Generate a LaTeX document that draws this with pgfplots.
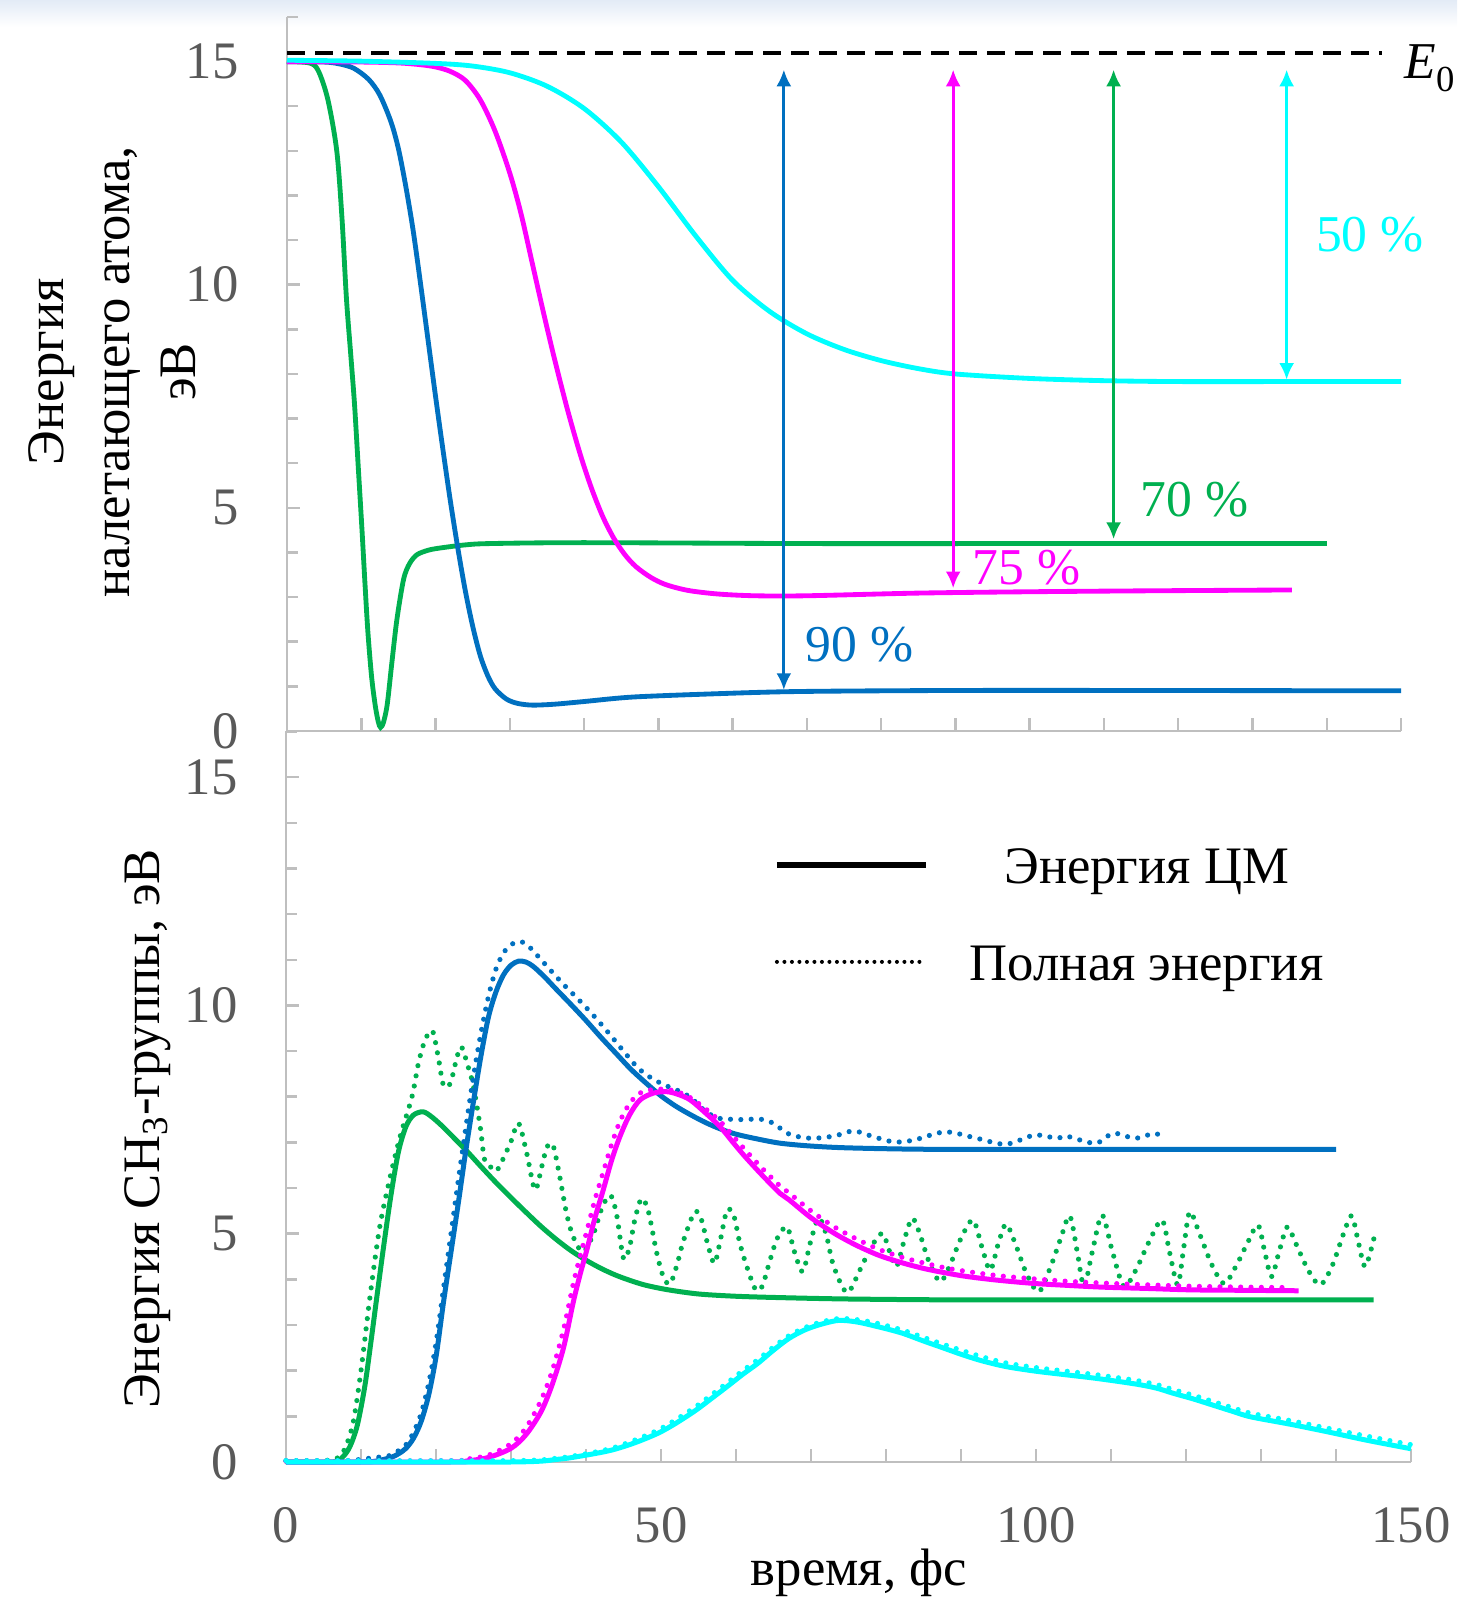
\documentclass[border=0pt]{standalone}
\usepackage{fontspec}
\setmainfont{Liberation Serif}
\usepackage{pgfplots}
\pgfplotsset{compat=1.18}
\usetikzlibrary{arrows.meta}
\definecolor{cCyan}{HTML}{00FFFF}
\definecolor{cMag}{HTML}{FF00FF}
\definecolor{cBlue}{HTML}{0070C0}
\definecolor{cGreen}{HTML}{00B050}
\definecolor{axgray}{HTML}{BFBFBF}
\definecolor{tickgray}{HTML}{595959}
\definecolor{bandc}{HTML}{E3EBF6}
\begin{document}
\begin{tikzpicture}
\path[use as bounding box] (0,0) rectangle (437.1pt,480.9pt);
\fill[white] (0,0) rectangle (437.1pt,480.9pt);
\shade[top color=bandc, bottom color=white] (0,472.8pt) rectangle (437.1pt,480.9pt);
\pgfplotsset{
  common/.style={
    scale only axis, clip=false,
    xmin=0, xmax=150, ymin=0, ymax=16,
    axis x line=bottom, axis y line=left,
    axis line style={-, draw=axgray, line width=0.75pt},
    every tick/.style={draw=axgray, line width=0.75pt},
    tick align=inside,
    major tick length=4pt, minor tick length=3.3pt,
    ytick={0,5,10,15},
    minor ytick={1,2,3,4,6,7,8,9,11,12,13,14,16},
    /pgf/number format/assume math mode=true,
    tick label style={font=\fontsize{15.8}{18}\selectfont, text=tickgray},
    y tick label style={anchor=east, inner sep=0pt, xshift=-14.3pt},
    x tick label style={anchor=center, inner sep=0pt, yshift=-19.1pt},
  },
  top/.style={line width=1.45pt, smooth, forget plot},
  sol/.style={line width=1.5pt, smooth, forget plot},
  dot/.style={line width=1.55pt, smooth, line cap=round, dash pattern=on 0pt off 3.1pt, forget plot},
}
% ---------------- top panel ----------------
\begin{axis}[common,
  at={(86.1pt,261.6pt)}, anchor=south west,
  width=334.2pt, height=214.2pt,
  xtick={10,20,...,150}, xticklabels={,,,,,,,,,,,,,,},
  ylabel={Энергия\\налетающего атома,\\эВ},
  every axis y label/.style={at={(axis description cs:-0.1566,0.503)}, rotate=90, anchor=center, align=center, font=\fontsize{15.8}{19.8}\selectfont},
]
\addplot[black, line width=1pt, dash pattern=on 5.4pt off 3pt, forget plot] coordinates {(0,15.19) (147.4,15.19)};
% green (70 %)
\addplot[top, cGreen] coordinates {
(0,15.0) (3,14.97) (4.2,14.8) (5.5,14.15) (6.7,13.0) (7.4,11.5) (8.0,9.7) (8.6,8.4) (9.1,7.3) (9.6,5.9)
(10.1,4.5) (10.5,3.3) (10.9,2.2) (11.4,1.2) (11.9,0.55) (12.3,0.2) (12.6,0.08) (13.0,0.2) (13.5,0.6)
(14.1,1.5) (14.8,2.5) (15.7,3.4) (16.5,3.75) (17.5,3.95) (19,4.05) (20.6,4.1) (24,4.17) (27.4,4.2)
(40,4.22) (70,4.2) (100,4.2) (140,4.2)};
% blue (90 %)
\addplot[top, cBlue] coordinates {
(0,15.0) (5,14.99) (7,14.95) (9,14.85) (11,14.6) (12.5,14.25) (14,13.65) (15,13.05) (16,12.2) (17,11.2)
(18,10.0) (19,8.75) (20,7.5) (21,6.3) (22,5.15) (23,4.1) (24,3.15) (25,2.35) (26,1.7) (27,1.25)
(28,0.95) (29.5,0.72) (31,0.62) (33,0.58) (36,0.6) (40,0.66) (46.5,0.76) (57,0.83) (67.2,0.88)
(80,0.9) (100,0.91) (150,0.9)};
% magenta (75 %)
\addplot[top, cMag] coordinates {
(0,15.0) (10,14.99) (15,14.97) (18,14.93) (20,14.88) (22,14.78) (24,14.58) (26,14.15) (28,13.45)
(30,12.5) (31.5,11.6) (33,10.5) (34.5,9.4) (36,8.35) (37.8,7.18) (39.5,6.19) (41,5.44) (42.5,4.81)
(44,4.32) (45.5,3.95) (47,3.68) (49,3.44) (51,3.28) (54,3.15) (58,3.07) (63,3.03) (70,3.03)
(85,3.09) (100,3.12) (115,3.14) (135.3,3.16)};
% cyan (50 %)
\addplot[top, cCyan] coordinates {
(0,15.03) (10,15.01) (20,14.96) (25,14.9) (30,14.75) (35,14.45) (40,13.95) (45,13.2) (50,12.2)
(55,11.1) (60,10.1) (65,9.4) (70,8.9) (75,8.55) (80,8.3) (85,8.12) (90,8.0) (100,7.9) (110,7.85)
(120,7.83) (135,7.83) (150,7.83)};
% arrows
\draw[cBlue, line width=0.85pt, {Latex[length=5pt,width=4.5pt]}-{Latex[length=5pt,width=4.5pt]}] (axis cs:66.9,14.82) -- (axis cs:66.9,0.92);
\draw[cMag, line width=0.85pt, {Latex[length=5pt,width=4.5pt]}-{Latex[length=5pt,width=4.5pt]}] (axis cs:89.7,14.82) -- (axis cs:89.7,3.2);
\draw[cGreen, line width=0.85pt, {Latex[length=5pt,width=4.5pt]}-{Latex[length=5pt,width=4.5pt]}] (axis cs:111.3,14.82) -- (axis cs:111.3,4.3);
\draw[cCyan, line width=0.85pt, {Latex[length=5pt,width=4.5pt]}-{Latex[length=5pt,width=4.5pt]}] (axis cs:134.6,14.82) -- (axis cs:134.6,7.87);
\node[text=cBlue, font=\fontsize{15.5}{18}\selectfont, inner sep=0pt] at (axis cs:77.1,1.93) {90 \%};
\node[text=cMag, font=\fontsize{15.5}{18}\selectfont, inner sep=0pt] at (axis cs:99.6,3.65) {75 \%};
\node[text=cGreen, font=\fontsize{15.5}{18}\selectfont, inner sep=0pt] at (axis cs:122.2,5.18) {70 \%};
\node[text=cCyan, font=\fontsize{15.5}{18}\selectfont, inner sep=0pt] at (axis cs:145.8,11.12) {50 \%};
\node[anchor=base west, inner sep=0pt, font=\fontsize{15.5}{18}\selectfont] at (axis cs:150.4,14.63) {\textit{E}\raisebox{-4pt}{\fontsize{11}{11}\selectfont 0}};
\end{axis}
% ---------------- bottom panel ----------------
\begin{axis}[common,
  at={(85.8pt,42.3pt)}, anchor=south west,
  width=337.5pt, height=219.15pt,
  xtick={0,10,...,150}, xticklabels={0,,,,,50,,,,,100,,,,,150},
  xlabel={время, фс},
  every axis x label/.style={at={(axis description cs:0.5093,-0.152)}, anchor=center, font=\fontsize{15.8}{19}\selectfont},
  ylabel={Энергия CH\textsubscript{3}-группы, эВ},
  every axis y label/.style={at={(axis description cs:-0.1227,0.456)}, rotate=90, anchor=center, font=\fontsize{15.8}{19}\selectfont},
  legend image code/.code={\draw[#1] (0pt,0pt) -- (44.8pt,0pt);},
  legend cell align=center,
  legend style={draw=none, fill=none, inner sep=0pt, outer sep=0pt,
    at={(axis description cs:0.434,0.8425)}, anchor=north west,
    row sep=18.1pt, column sep=12.3pt,
    nodes={inner sep=0pt, text height=11pt, text depth=0pt, font=\fontsize{15.8}{19}\selectfont}},
]
% green
\addplot[dot, cGreen] coordinates {
(0,0.02) (5,0.03) (7,0.1) (8,0.35) (9,0.9) (10,2.0) (11.2,3.62) (12.5,5.15) (13.9,6.25) (15.2,7.12)
(16.8,8.0) (17.6,8.69) (18.3,9.13) (19.0,9.39) (19.6,9.42) (20.3,8.87) (21.0,8.25) (21.9,8.29)
(22.8,8.87) (23.4,9.09) (24.3,8.65) (25.0,8.22) (25.9,7.34) (26.5,6.61) (27.6,6.43) (28.2,6.4)
(29.9,6.98) (31.0,7.42) (32.1,6.76) (33.2,5.96) (34.1,6.47) (34.8,6.9) (35.6,6.94) (36.5,6.25)
(37.4,5.45) (38.3,4.93) (39.6,4.6) (41,5.0) (42.2,5.6) (43.3,5.84) (44.1,5.4) (45.0,4.46) (45.8,4.7)
(46.5,5.3) (47.4,5.77) (48.3,5.5) (49.4,4.6) (50.3,4.06) (51.2,3.9) (52.1,4.3) (53.0,4.85) (54.5,5.48)
(55.4,5.3) (56.1,4.85) (57.1,4.35) (57.9,4.85) (58.8,5.52) (59.7,5.4) (60.5,4.8) (61.4,4.3) (62.6,3.78)
(63.5,3.85) (64.5,4.4) (65.5,4.9) (66.8,5.15) (67.8,4.6) (68.9,4.17) (69.9,4.8) (71.0,5.34) (72.0,5.0)
(73.0,4.3) (74.8,3.71) (76.5,4.2) (78,4.7) (79.5,5.01) (80.5,4.6) (81.4,4.28) (82.5,4.9) (83.5,5.34)
(84.5,5.0) (85.7,4.4) (87.2,3.95) (88.5,4.3) (90,4.9) (91.6,5.3) (92.8,4.7) (93.9,4.2) (95,4.8)
(96.0,5.21) (97.2,4.8) (98.8,4.1) (100.4,3.73) (102,4.3) (103.3,4.9) (104.5,5.39) (105.5,4.6)
(106.4,3.85) (107.5,4.6) (108.8,5.41) (110.2,4.6) (111.7,3.85) (113.3,4.2) (115,4.8) (116.8,5.3)
(117.8,4.6) (118.9,3.88) (119.7,4.7) (120.5,5.48) (121.8,5.0) (123.5,4.3) (125.1,3.91) (126.7,4.3)
(128.2,4.8) (129.6,5.19) (130.5,4.6) (131.4,4.06) (132.4,4.6) (133.5,5.15) (134.6,4.8) (136.3,4.2)
(137.9,3.88) (139.5,4.3) (141,5.0) (142.1,5.39) (143,4.8) (143.9,4.28) (145.1,4.93)};
\addplot[sol, cGreen] coordinates {
(0,0) (6.3,0) (7.5,0.1) (8.5,0.33) (9.5,0.8) (10.5,1.65) (11.3,2.6) (12.1,3.6) (13,4.7) (14,5.85)
(15,6.8) (16,7.35) (17,7.6) (18.3,7.67) (19.5,7.55) (21,7.33) (22.5,7.08) (24,6.83) (26,6.47)
(28,6.12) (30,5.79) (32,5.47) (34,5.16) (36,4.88) (38,4.63) (40,4.42) (42,4.24) (44,4.09) (46,3.97)
(48,3.87) (51,3.77) (55,3.68) (60,3.63) (66,3.6) (75,3.57) (90,3.55) (110,3.55) (145,3.55)};
% blue
\addplot[dot, cBlue] coordinates {
(0,0.03) (8,0.03) (10,0.06) (12,0.1) (14,0.15) (16,0.38) (17,0.65) (18,1.05) (19,1.7) (20,2.6)
(21,3.8) (22,5.0) (23,6.2) (24,7.35) (25,8.45) (26,9.4) (27,10.2) (28,10.8) (29,11.15) (30,11.33)
(31,11.4) (32,11.35) (33.2,11.15) (35,10.82) (37,10.46) (39,10.13) (41,9.78) (43,9.4) (45,9.0)
(47,8.62) (49,8.38) (51,8.22) (53,8.08) (54.5,7.9) (55.5,7.74) (56.5,7.62) (57.6,7.53) (60.5,7.5)
(63.2,7.51) (64.7,7.44) (65.9,7.31) (67.4,7.16) (70.1,7.09) (73.1,7.14) (75.7,7.25) (78.4,7.12)
(81.1,7.01) (83.7,7.05) (87.9,7.23) (92.1,7.09) (96,6.96) (99.8,7.16) (102.8,7.09) (104,7.14)
(107.9,6.98) (110.3,7.2) (113.2,7.09) (115.9,7.2) (117.1,7.05)};
\addplot[sol, cBlue] coordinates {
(0,0) (10,0) (12,0.02) (14,0.1) (15,0.18) (16,0.3) (17,0.52) (18,0.88) (19,1.45) (20,2.3) (21,3.5)
(22,4.6) (23,5.7) (24,6.85) (25,7.9) (26,8.9) (27,9.75) (28,10.3) (29,10.67) (30,10.88) (31,10.97)
(32,10.95) (33,10.85) (34.5,10.62) (36,10.36) (38,10.02) (40,9.67) (42,9.3) (44,8.95) (46,8.6)
(48,8.3) (50,8.02) (52,7.79) (54,7.6) (56,7.43) (58,7.29) (60,7.18) (63,7.07) (66,6.98) (70,6.92)
(75,6.88) (85,6.85) (100,6.85) (140,6.85)};
% magenta
\addplot[dot, cMag] coordinates {
(0,0.02) (22,0.03) (24,0.06) (27,0.15) (30,0.4) (32,0.75) (34,1.35) (35.5,2.0) (37,2.9) (38.3,3.9)
(39.2,4.5) (40.1,5.05) (41.2,5.75) (42.3,6.35) (43.4,6.95) (44.5,7.45) (45.8,7.85) (47.2,8.08)
(49,8.16) (50.8,8.16) (52.3,8.1) (53.9,7.98) (55.9,7.74) (57.9,7.46) (59.6,7.14) (61.2,6.84)
(63.5,6.43) (65.9,6.04) (67.1,5.89) (70,5.5) (73.1,5.15) (76,4.89) (79,4.66) (82,4.49) (85,4.36)
(88,4.25) (90.9,4.17) (95,4.08) (99.8,4.01) (104,3.96) (108.8,3.92) (115,3.88) (120.7,3.85)
(128,3.83) (134,3.82)};
\addplot[sol, cMag] coordinates {
(0,0) (22,0) (24,0.02) (27,0.1) (30,0.3) (32,0.6) (34,1.1) (35.5,1.7) (37,2.5) (38.3,3.5) (39.2,4.1)
(40.1,4.64) (41.2,5.35) (42.3,5.96) (43.4,6.6) (44.5,7.12) (45.8,7.6) (47.2,7.93) (49,8.08)
(50.8,8.11) (52.3,8.05) (53.9,7.93) (55.9,7.65) (57.9,7.34) (59.6,7.0) (61.2,6.69) (63.5,6.28)
(65.9,5.88) (67.1,5.74) (70,5.35) (73.1,5.01) (76,4.75) (79,4.53) (82,4.37) (85,4.24) (88,4.14)
(90.9,4.06) (95,3.98) (99.8,3.91) (104,3.87) (108.8,3.83) (115,3.8) (120.7,3.77) (128,3.76) (135,3.75)};
% cyan
\addplot[dot, cCyan] coordinates {
(0,0.03) (30,0.03) (36,0.08) (40,0.18) (43.4,0.3) (46.5,0.48) (49.6,0.7) (52,0.93) (54.7,1.22)
(56.8,1.48) (58.8,1.73) (60.9,2.0) (62.9,2.24) (65,2.52) (67,2.76) (69,2.93) (71,3.05) (73.6,3.14)
(76,3.12) (78.5,3.05) (82,2.9) (85,2.73) (87.6,2.58) (90,2.45) (92.7,2.31) (96,2.17) (99.9,2.07)
(104,1.99) (108.1,1.91) (113.2,1.79) (116,1.7) (118.4,1.58) (121,1.46) (123.5,1.33) (126,1.2)
(128.6,1.07) (133.8,0.91) (138.9,0.74) (144,0.57) (150,0.38)};
\addplot[sol, cCyan] coordinates {
(0,0) (30,0) (36.3,0.06) (40,0.15) (43.4,0.26) (46.5,0.42) (49.6,0.63) (52,0.85) (54.7,1.14)
(56.8,1.4) (58.8,1.65) (60.9,1.92) (62.9,2.16) (65,2.45) (67,2.7) (69,2.88) (71,3.0) (73.6,3.1)
(76,3.07) (78.5,2.98) (82,2.83) (85,2.65) (87.6,2.5) (90,2.36) (92.7,2.22) (96,2.09) (99.9,1.99)
(104,1.91) (108.1,1.83) (113.2,1.71) (116,1.62) (118.4,1.5) (121,1.38) (123.5,1.25) (126,1.12)
(128.6,0.99) (133.8,0.83) (138.9,0.66) (144,0.48) (150,0.29)};
% legend
\addlegendimage{black, line width=1.6pt}
\addlegendentry{Энергия ЦМ}
\addlegendimage{black, line width=1.2pt, line cap=round, dash pattern=on 0pt off 2.25pt}
\addlegendentry{Полная энергия}
\end{axis}
\end{tikzpicture}
\end{document}
